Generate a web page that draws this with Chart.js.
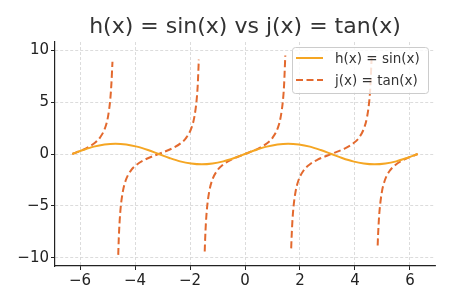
<!DOCTYPE html>
<html>
<head>
<meta charset="utf-8">
<script src="https://cdn.jsdelivr.net/npm/chart.js@4/dist/chart.umd.min.js"></script>
<style>
  html, body { margin: 0; padding: 0; background: #fff; }
  #wrap { width: 450px; height: 300px; }
</style>
</head>
<body>
<div id="wrap"><canvas id="funcChart" width="450" height="300"></canvas></div>
<script>
const chartTitle = 'h(x) = sin(x) vs j(x) = tan(x)';
const seriesLabels = ['h(x) = sin(x)', 'j(x) = tan(x)'];

// h(x) = sin(x)
const sinX = [-6.28, -5.89, -5.50, -5.11, -4.71, -4.32, -3.93, -3.53, -3.14, -2.75, -2.36, -1.96, -1.57, -1.18, -0.79, -0.39,
  0, 0.39, 0.79, 1.18, 1.57, 1.96, 2.36, 2.75, 3.14, 3.53, 3.93, 4.32, 4.71, 5.11, 5.50, 5.89, 6.28];
const sinY = [0, 0.38, 0.71, 0.92, 1, 0.92, 0.71, 0.38, 0, -0.38, -0.71, -0.92, -1, -0.92, -0.71, -0.38,
  0, 0.38, 0.71, 0.92, 1, 0.92, 0.71, 0.38, 0, -0.38, -0.71, -0.92, -1, -0.92, -0.71, -0.38, 0];

// j(x) = tan(x), branches split by null at the asymptotes
const tanX = [
  -6.28, -5.98, -5.68, -5.48, -5.28, -5.08, -4.98, -4.90, -4.86, -4.82,
  -4.71,
  -4.61, -4.59, -4.56, -4.52, -4.44, -4.34, -4.14, -3.94, -3.64, -3.14, -2.64, -2.34, -2.14, -1.94, -1.84, -1.76, -1.72, -1.68,
  -1.57,
  -1.465, -1.45, -1.42, -1.38, -1.30, -1.20, -1.00, -0.80, -0.50, 0, 0.50, 0.80, 1.00, 1.20, 1.30, 1.38, 1.42, 1.466,
  1.57,
  1.68, 1.69, 1.72, 1.76, 1.84, 1.94, 2.14, 2.34, 2.64, 3.14, 3.64, 3.94, 4.14, 4.34, 4.44, 4.52, 4.56, 4.605,
  4.71,
  4.825, 4.84, 4.87, 4.90, 4.98, 5.08, 5.28, 5.48, 5.78, 6.28
];
const tanY = [
  0, 0.31, 0.69, 1.04, 1.56, 2.58, 3.63, 5.26, 6.71, 8.9,
  null,
  -9.73, -8.1, -6.51, -5.13, -3.58, -2.56, -1.55, -1.03, -0.54, 0, 0.55, 1.03, 1.56, 2.57, 3.6, 5.18, 6.58, 9.1,
  null,
  -9.4, -8.24, -6.58, -5.18, -3.6, -2.57, -1.56, -1.03, -0.55, 0, 0.55, 1.03, 1.56, 2.57, 3.6, 5.18, 6.58, 9.5,
  null,
  -9.1, -8.35, -6.65, -5.22, -3.62, -2.58, -1.56, -1.03, -0.55, 0, 0.54, 1.03, 1.55, 2.56, 3.58, 5.13, 6.51, 9.28,
  null,
  -8.83, -7.8, -6.29, -5.27, -3.63, -2.58, -1.56, -1.04, -0.55, 0
];

const xTicks = [-6, -4, -2, 0, 2, 4, 6];
const yTicks = [-10, -5, 0, 5, 10];

const FONT = 'DejaVu Sans';
const sinColor = '#f5a623';
const tanColor = '#e3692e';

const fmt = v => (v < 0 ? '\u2212' + Math.abs(v) : String(v));

const titlePlugin = {
  id: 'axTitle',
  afterDraw(chart) {
    const { ctx, chartArea } = chart;
    ctx.save();
    ctx.font = '22px "' + FONT + '"';
    ctx.fillStyle = '#333';
    ctx.textAlign = 'center';
    ctx.textBaseline = 'alphabetic';
    ctx.fillText(chartTitle, (chartArea.left + chartArea.right) / 2, 33);
    ctx.restore();
  }
};

const legendPlugin = {
  id: 'boxLegend',
  afterDraw(chart) {
    const ctx = chart.ctx;
    const x0 = 292, y0 = 47, w = 136, h = 46;
    ctx.save();
    ctx.beginPath();
    ctx.roundRect(x0 + 0.5, y0 + 0.5, w, h, 3);
    ctx.fillStyle = 'rgba(255,255,255,0.8)';
    ctx.fill();
    ctx.strokeStyle = '#cccccc';
    ctx.lineWidth = 1;
    ctx.stroke();
    ctx.font = '13.5px "' + FONT + '"';
    ctx.fillStyle = '#333';
    ctx.textBaseline = 'middle';
    chart.data.datasets.forEach((ds, i) => {
      const ly = 58 + i * 22;
      ctx.beginPath();
      ctx.strokeStyle = ds.borderColor;
      ctx.lineWidth = 2;
      ctx.setLineDash(ds.borderDash || []);
      ctx.moveTo(296, ly);
      ctx.lineTo(323, ly);
      ctx.stroke();
      ctx.setLineDash([]);
      ctx.fillText(ds.label, 335, ly + 1);
    });
    ctx.restore();
  }
};

new Chart(document.getElementById('funcChart').getContext('2d'), {
  type: 'line',
  data: {
    datasets: [
      {
        label: seriesLabels[0],
        data: sinX.map((x, i) => ({ x, y: sinY[i] })),
        borderColor: sinColor,
        borderWidth: 2,
        pointRadius: 0,
        cubicInterpolationMode: 'monotone',
        fill: false,
      },
      {
        label: seriesLabels[1],
        data: tanX.map((x, i) => ({ x, y: tanY[i] })),
        borderColor: tanColor,
        borderWidth: 2,
        borderDash: [7, 3.5],
        pointRadius: 0,
        cubicInterpolationMode: 'monotone',
        spanGaps: false,
        fill: false,
      },
    ],
  },
  options: {
    responsive: false,
    animation: false,
    devicePixelRatio: 1,
    layout: { padding: { top: 42, right: 15, left: 0, bottom: 0 } },
    plugins: {
      legend: { display: false },
      title: { display: false },
      tooltip: { enabled: false },
    },
    scales: {
      x: {
        type: 'linear',
        min: -6.91,
        max: 6.91,
        afterBuildTicks: axis => { axis.ticks = xTicks.map(v => ({ value: v })); },
        afterFit: axis => { axis.height = 34; },
        grid: { color: '#d3d3d3', tickColor: '#222', tickLength: 4, lineWidth: 0.8, tickWidth: 1 },
        border: { display: true, color: '#222', width: 1.2, dash: [3, 2] },
        ticks: { color: '#222', font: { family: FONT, size: 15 }, padding: 2, maxRotation: 0, callback: v => fmt(v) },
      },
      y: {
        type: 'linear',
        min: -10.8,
        max: 10.8,
        afterBuildTicks: axis => { axis.ticks = yTicks.map(v => ({ value: v })); },
        afterFit: axis => { axis.width = 55; },
        grid: { color: '#d3d3d3', tickColor: '#222', tickLength: 4, lineWidth: 0.8, tickWidth: 1 },
        border: { display: true, color: '#222', width: 1.2, dash: [3, 2] },
        ticks: { color: '#222', font: { family: FONT, size: 15 }, padding: 2, callback: v => fmt(v) },
      },
    },
  },
  plugins: [titlePlugin, legendPlugin],
});
</script>
</body>
</html>
